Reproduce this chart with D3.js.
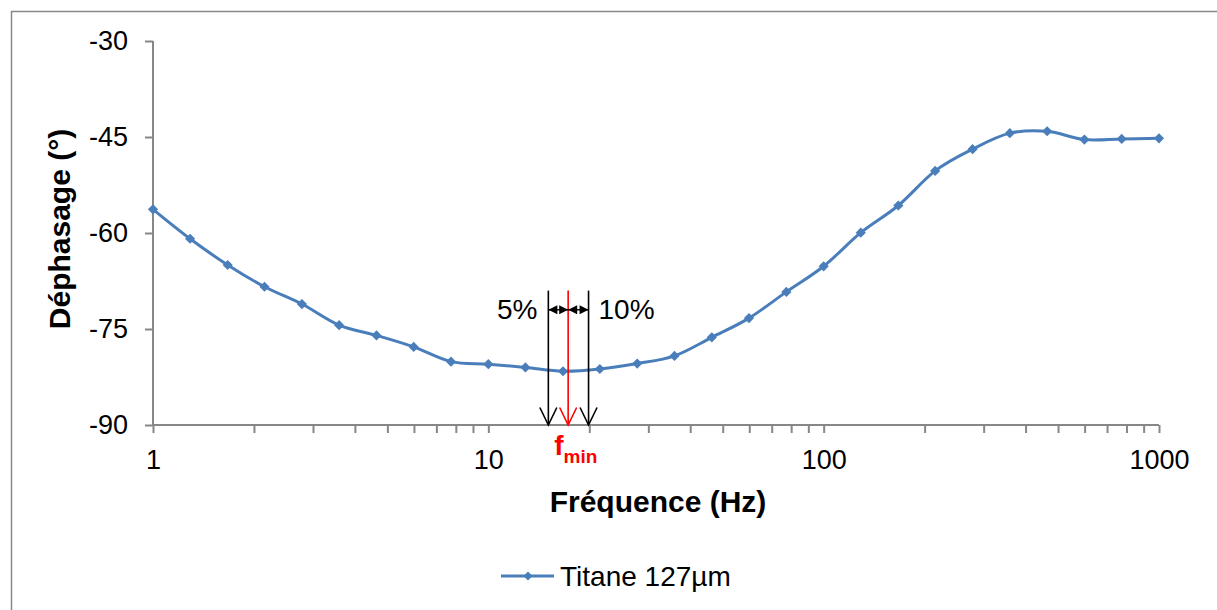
<!DOCTYPE html>
<html>
<head>
<meta charset="utf-8">
<script src="https://cdn.jsdelivr.net/npm/d3@7"></script>
<style>
  html, body { margin: 0; padding: 0; background: #fff; }
  svg { display: block; font-family: "Liberation Sans", Arial, sans-serif; }
</style>
</head>
<body>
<svg id="chart" width="1217" height="610"></svg>
<script>
// ---- Data ----
const frequencies = [1, 1.29, 1.67, 2.15, 2.78, 3.59, 4.64, 5.99, 7.74,
                     10, 12.9, 16.7, 21.5, 27.8, 35.9, 46.4, 59.9, 77.4,
                     100, 129, 167, 215, 278, 359, 464, 599, 774, 1000];
const phases = [-56.3, -60.9, -65.0, -68.4, -71.1, -74.4, -76.0, -77.8, -80.1,
                -80.5, -81.0, -81.6, -81.25, -80.4, -79.2, -76.3, -73.3, -69.2,
                -65.2, -59.95, -55.7, -50.3, -46.9, -44.4, -44.1, -45.4, -45.3, -45.2];
const seriesName = "Titane 127µm";
const yTicks = [-30, -45, -60, -75, -90];
const xMajorTicks = [1, 10, 100, 1000];
const xTitle = "Fréquence (Hz)";
const yTitle = "Déphasage (°)";
// annotation frequencies (Hz) and levels (°)
const fMin = 17.3, fLow = 15.1, fHigh = 19.9;
const annoTop = -69, annoArrowLevel = -72;
const lowLabel = "5%", highLabel = "10%";

// ---- Layout ----
const svg = d3.select("#chart");
const lineColor = "#4a7ebb";
const axisColor = "#878787";

svg.append("rect").attr("x", 11.5).attr("y", 11.5).attr("width", 1230).attr("height", 620)
  .attr("fill", "none").attr("stroke", axisColor).attr("stroke-width", 1.5);

const x = d3.scaleLog().domain([1, 1000]).range([153, 1159]);
const y = d3.scaleLinear().domain([-90, -30]).range([425, 41]);

// minor + major x ticks
const xTickVals = [];
[1, 10, 100].forEach(d => { for (let k = 1; k < 10; k++) xTickVals.push(d * k); });
xTickVals.push(1000);

const xAxis = d3.axisBottom(x).tickValues(xTickVals).tickSize(8).tickPadding(17)
  .tickFormat(d => xMajorTicks.includes(d) ? String(d) : "");
const gx = svg.append("g").attr("transform", `translate(0,${y(-90)})`).call(xAxis);
gx.select(".domain").attr("d", `M${x(1)},0H${x(1000)}`);

const yAxis = d3.axisLeft(y).tickValues(yTicks).tickSize(8).tickPadding(17)
  .tickFormat(d => String(d));
const gy = svg.append("g").attr("transform", `translate(${x(1)},0)`).call(yAxis);
gy.select(".domain").attr("d", `M0,${y(-30)}V${y(-90)}`);

[gx, gy].forEach(g => {
  g.selectAll(".domain").attr("stroke", axisColor).attr("stroke-width", 2);
  g.selectAll(".tick line").attr("stroke", axisColor).attr("stroke-width", 2);
  g.selectAll("text").attr("font-size", 27).attr("fill", "#000")
    .attr("font-family", "Liberation Sans, Arial, sans-serif");
});

// titles
svg.append("text").attr("x", 658).attr("y", 512).attr("text-anchor", "middle")
  .attr("font-size", 30).attr("font-weight", "bold").text(xTitle);
svg.append("text").attr("transform", "translate(70,229) rotate(-90)")
  .attr("text-anchor", "middle").attr("font-size", 30).attr("font-weight", "bold").text(yTitle);

// ---- Series ----
const data = frequencies.map((f, i) => ({ f, v: phases[i] }));
const line = d3.line().x(d => x(d.f)).y(d => y(d.v)).curve(d3.curveCatmullRom.alpha(0));
svg.append("path").datum(data).attr("d", line).attr("fill", "none")
  .attr("stroke", lineColor).attr("stroke-width", 3);
svg.append("g").selectAll("path").data(data).join("path")
  .attr("d", d3.symbol().type(d3.symbolSquare).size(52))
  .attr("transform", d => `translate(${x(d.f)},${y(d.v)}) rotate(45)`)
  .attr("fill", lineColor);

// ---- Annotation ----
const yBase = y(-90), yTop = y(annoTop), yArr = y(annoArrowLevel);
function vArrow(fx, color) {
  const xx = x(fx);
  svg.append("line").attr("x1", xx).attr("x2", xx).attr("y1", yTop).attr("y2", yBase)
    .attr("stroke", color).attr("stroke-width", 1.6);
  svg.append("path").attr("d", `M${xx - 8.5},${yBase - 17.5}L${xx},${yBase}L${xx + 8.5},${yBase - 17.5}`)
    .attr("fill", "none").attr("stroke", color).attr("stroke-width", 1.6);
}
vArrow(fLow, "#000");
vArrow(fHigh, "#000");
vArrow(fMin, "#ff0000");

function hDouble(f1, f2) {
  const x1 = x(f1), x2 = x(f2);
  svg.append("line").attr("x1", x1).attr("x2", x2).attr("y1", yArr).attr("y2", yArr)
    .attr("stroke", "#000").attr("stroke-width", 1.4);
  svg.append("path").attr("d", `M${x1},${yArr}L${x1 + 9},${yArr - 4.5}L${x1 + 9},${yArr + 4.5}Z`).attr("fill", "#000");
  svg.append("path").attr("d", `M${x2},${yArr}L${x2 - 9},${yArr - 4.5}L${x2 - 9},${yArr + 4.5}Z`).attr("fill", "#000");
}
hDouble(fLow, fMin);
hDouble(fMin, fHigh);

svg.append("text").attr("x", x(fLow) - 11).attr("y", yArr + 9.5).attr("text-anchor", "end")
  .attr("font-size", 28).text(lowLabel);
svg.append("text").attr("x", x(fHigh) + 10).attr("y", yArr + 9.5).attr("text-anchor", "start")
  .attr("font-size", 28).text(highLabel);

const fLabel = svg.append("text").attr("x", x(fMin) - 14).attr("y", 455)
  .attr("fill", "#ff0000").attr("font-weight", "bold");
fLabel.append("tspan").attr("font-size", 28).text("f");
fLabel.append("tspan").attr("font-size", 19).attr("dy", 8).text("min");

// ---- Legend ----
const lg = svg.append("g").attr("transform", "translate(501,576)");
lg.append("line").attr("x1", 0).attr("x2", 53).attr("y1", 0).attr("y2", 0)
  .attr("stroke", lineColor).attr("stroke-width", 3);
lg.append("path").attr("d", d3.symbol().type(d3.symbolSquare).size(42))
  .attr("transform", "translate(27,0) rotate(45)").attr("fill", lineColor);
lg.append("text").attr("x", 59).attr("y", 10).attr("font-size", 28).text(seriesName);
</script>
</body>
</html>
